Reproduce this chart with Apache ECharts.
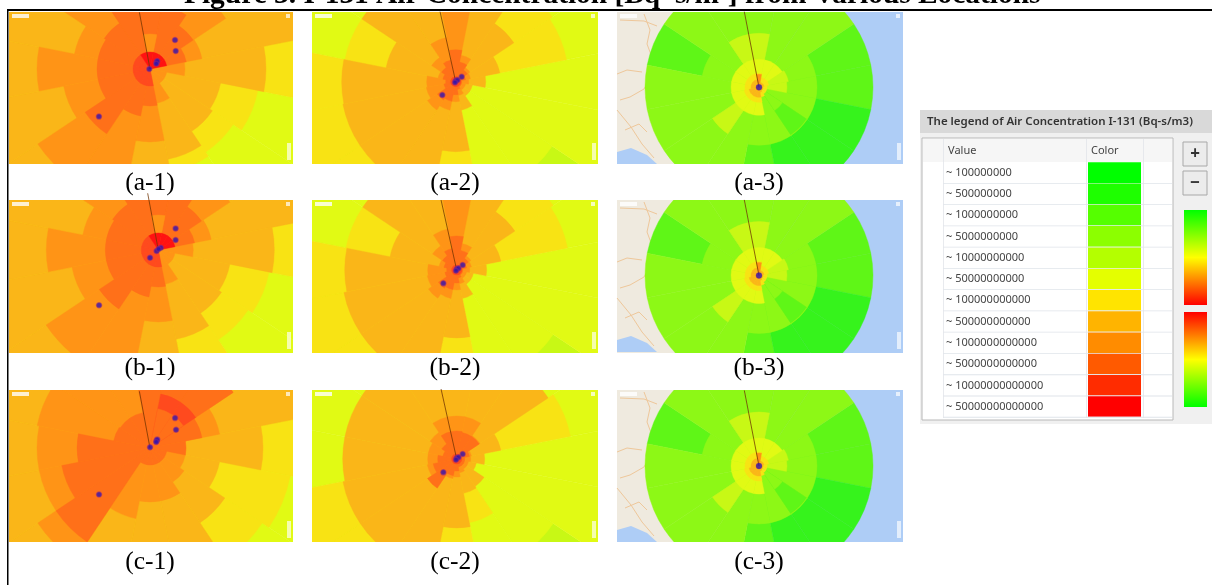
<!DOCTYPE html>
<html><head><meta charset="utf-8">
<style>html,body{margin:0;padding:0;background:#fff}#c{width:1212px;height:585px;filter:blur(0.4px)}</style>
<script src="https://cdn.jsdelivr.net/npm/echarts@6/dist/echarts.min.js"></script>
</head><body><div id="c"></div>
<script>
const titleText = 'Figure 3. I-131 Air Concentration [Bq*s/m³] from Various Locations';
const panelLabels = ['(a-1)','(a-2)','(a-3)','(b-1)','(b-2)','(b-3)','(c-1)','(c-2)','(c-3)'];
const legendTitle = 'The legend of Air Concentration I-131 (Bq-s/m3)';
const legendValues = ['~ 100000000','~ 500000000','~ 1000000000','~ 5000000000','~ 10000000000','~ 50000000000','~ 100000000000','~ 500000000000','~ 1000000000000','~ 5000000000000','~ 10000000000000','~ 50000000000000'];
const legendColors = ['#00ff00','#1eff00','#55ff00','#8cff00','#b4ff00','#e4ff00','#ffe400','#ffb400','#ff8c00','#ff5a00','#ff2c00','#ff0000'];
const levelColors = {red:'#ff1212',redOrange:'#ff4a1e',orangeRed:'#ff7019',orange:'#ff9416',amber:'#fab618',yellow:'#f8e314',ygreen:'#e1fa14',lime:'#c8f815',lgreen:'#8df816',green2:'#5ff617',green3:'#36f31c'};
const levelNames = Object.keys(levelColors);
// sector centres, degrees clockwise from north: N NNE NE ENE E ESE SE SSE S SSW SW WSW W WNW NW NNW
const sectorAngles = [0,22.5,45,67.5,90,112.5,135,157.5,180,202.5,225,247.5,270,292.5,315,337.5];
// reach of each concentration level per sector (distance units on the radius axis), painted in order
const panelA1 = [
 ['ygreen',[300,300,300,300,300,300,300,300,300,300,300,300,300,300,300,300]],
 ['yellow',[300,300,300,300,300,110,100,105,300,300,300,300,300,300,300,300]],
 ['amber',[300,300,300,300,116,72,75,92,300,300,300,300,300,300,300,300]],
 ['orange',[113,113,91,53,35,17,17,35,73,135,135,88,113,77,113,113]],
 ['orangeRed',[80,65,52,37,0,0,0,0,37,48,78,53,53,53,55,80]],
 ['orange',[35,0,0,0,0,0,0,0,0,0,0,0,0,0,0,0]],
 ['redOrange',[0,0,0,0,0,0,0,0,17,17,17,17,17,17,17,0]],
 ['red',[17,17,17,17,0,0,0,0,0,0,0,0,0,0,0,17]]];
const panelB1 = [
 ['ygreen',[300,300,300,300,300,300,300,300,300,300,300,300,300,300,300,300]],
 ['yellow',[300,300,300,300,300,113,108,125,300,300,300,300,300,300,300,300]],
 ['amber',[300,300,300,300,116,73,76,91,300,300,300,300,300,300,300,300]],
 ['orange',[113,113,86,54,35,17,17,35,72,135,135,88,112,77,113,113]],
 ['orangeRed',[80,65,52,37,0,0,0,0,37,48,71,53,53,53,55,80]],
 ['orange',[35,0,0,0,0,0,0,0,0,0,0,0,0,0,0,0]],
 ['redOrange',[0,0,0,0,0,0,0,0,17,17,17,17,17,17,17,0]],
 ['red',[17,17,17,17,0,0,0,0,0,0,0,0,0,0,0,17]]];
const panelC1 = [
 ['ygreen',[300,300,300,300,300,300,300,300,300,300,300,300,300,300,300,300]],
 ['yellow',[300,300,300,300,300,143,135,300,300,300,300,300,300,300,300,300]],
 ['amber',[300,300,300,300,113,71,90,300,300,300,300,300,300,300,300,300]],
 ['orange',[113,100,100,71,36,36,41,54,54,72,135,113,113,115,113,113]],
 ['orangeRed',[80,80,100,53,36,17,17,17,17,17,113,90,73,37,36,36]],
 ['redOrange',[0,55,55,0,0,0,0,0,0,0,0,0,0,0,0,0]],
 ['orangeRed',[0,40,40,0,0,0,0,0,0,0,0,0,0,0,0,0]]];
const panelA2 = [
 ['lime',[0,0,0,0,0,0,300,0,0,0,0,0,0,0,0,0]],
 ['ygreen',[300,300,300,300,300,300,116,300,300,300,300,300,300,300,300,300]],
 ['yellow',[300,300,116,113,0,0,0,0,300,300,300,300,300,113,0,300]],
 ['amber',[300,113,70,45,30,17,17,29,70,115,115,115,114,71,113,300]],
 ['orange',[80,27,17,15,13,10,10,14,20,29,34,30,29,18,29,45]],
 ['orangeRed',[32,20,14,10,6,6,6,8,13,20,22,12,10,13,17,22]],
 ['redOrange',[5,5,5,5,5,5,5,5,5,5,5,5,5,5,5,5]]];
const panelB2 = [
 ['lime',[0,0,0,0,0,0,300,0,0,0,0,0,0,0,0,0]],
 ['ygreen',[300,300,300,300,300,300,116,300,300,300,300,300,300,300,300,300]],
 ['yellow',[300,300,116,113,0,0,0,0,300,300,300,300,300,113,0,300]],
 ['amber',[300,113,70,45,30,17,17,29,68,115,115,115,112,68,113,300]],
 ['orange',[80,27,17,15,13,10,10,14,20,29,34,30,29,18,29,42]],
 ['orangeRed',[34,20,14,10,6,6,6,8,13,20,22,12,10,13,17,22]],
 ['redOrange',[5,5,5,5,5,5,5,5,5,5,5,5,5,5,5,5]]];
const panelC2 = [
 ['lime',[0,0,0,0,0,0,300,0,0,0,0,0,0,0,0,0]],
 ['ygreen',[300,300,300,300,300,300,116,300,300,300,300,300,300,300,300,300]],
 ['yellow',[300,300,0,116,0,0,0,65,300,300,300,300,0,0,0,300]],
 ['amber',[300,300,110,45,28,20,33,35,69,116,116,116,114,114,114,300]],
 ['orange',[43,43,28,15,14,12,12,14,18,20,35,30,29,29,32,43]],
 ['orangeRed',[28,27,27,13,8,8,8,8,12,17,35,24,19,14,18,28]],
 ['redOrange',[5,5,5,5,5,5,5,5,5,5,5,5,5,5,5,5]]];
const panelA3 = [
 ['green2',[0,0,0,114,114,0,0,0,114,0,0,0,0,114,0,0]],
 ['green3',[0,0,0,0,0,114,114,114,0,0,0,0,0,0,0,0]],
 ['lgreen',[114,114,114,58,58,58,58,58,58,114,114,114,114,58,114,114]],
 ['lime',[54,0,0,0,0,0,0,0,0,0,56,0,0,0,0,54]],
 ['green2',[0,0,0,0,0,0,57,0,0,0,0,0,0,0,0,0]],
 ['lgreen',[0,0,0,0,0,0,28,0,0,0,0,0,0,0,0,0]],
 ['lime',[0,0,0,30,28,0,0,0,0,0,0,0,0,0,0,0]],
 ['ygreen',[28,28,28,0,0,0,0,0,28,28,28,28,28,28,28,28]],
 ['yellow',[14,10,10,10,8,8,8,10,15,15,15,15,14,14,14,14]],
 ['amber',[10,5,5,5,4,4,4,5,10,10,10,10,8,8,8,8]],
 ['orange',[13,0,0,0,0,0,0,0,3,3,3,3,3,3,3,0]]];
const panelB3 = panelA3;
const panelC3 = panelA3;
const panelLayers = [panelA1,panelA2,panelA3,panelB1,panelB2,panelB3,panelC1,panelC2,panelC3];
// monitoring points: [distance, bearing]
const pointsA1 = [[38.3,40.8],[31.4,55],[9.4,45],[10.8,42],[8.2,50],[0.7,270],[69.8,227]];
const pointsB1 = [[27.7,38.7],[20,60],[2,240],[3.4,48],[1,20],[11.3,227],[81,227]];
const pointsC1 = [[39,40],[31.8,55],[9.9,42],[11.2,40],[8.6,46],[0.7,0],[69,227.6]];
const pointsCol2 = [[7.8,50],[18.9,225],[1,0],[2.5,45],[1,225]];
const pointsCol3 = [[0,0]];
const panelPoints = [pointsA1,pointsCol2,pointsCol3,pointsB1,pointsCol2,pointsCol3,pointsC1,pointsCol2,pointsCol3];
// plume axis: [distance, bearing]
const plumeAxis = [[57.7,349.4],[71.7,347.4],[77,349],[57.7,349.4],[71.7,347.4],[77,349],[57.7,349.4],[71.7,347.4],[77,349]];

// layout
const colX = [[9,293],[312,598],[617,903]];
const rowY = [[12,164],[200,353],[390,542]];
const labelY = [183,368,562];
const labelX = [150,455,759];
const centres = [[150,69],[455.7,81.7],[759,87.3],[158.3,250],[456.7,270],[759,275.5],[150,448],[456.7,459],[759,466]];
const R = 340;

function renderSector(clip){
  return function(params, api){
    const a = api.value(0), reach = api.value(1), lvl = api.value(2);
    const cs = params.coordSys;
    const half = (sectorAngles[1]-sectorAngles[0])/2;
    const p0 = api.coord([reach, a-half]);
    const p1 = api.coord([reach, a+half]);
    const rr = Math.hypot(p0[0]-cs.cx, p0[1]-cs.cy);
    const s = Math.atan2(p0[1]-cs.cy, p0[0]-cs.cx);
    let e = Math.atan2(p1[1]-cs.cy, p1[0]-cs.cx);
    if (e < s) e += Math.PI*2;
    const col = levelColors[levelNames[lvl]];
    return {type:'sector', shape:{cx:cs.cx, cy:cs.cy, r0:0, r:rr, startAngle:s, endAngle:e, clockwise:true},
      style:{fill:col, stroke:col, lineWidth:0.4},
      clipPath:{type:'rect', shape:clip}};
  };
}

const polar=[], angleAxis=[], radiusAxis=[], series=[], graphic=[];
const roads = [
 [[3,88],[13,85],[27,77],[31,70]],[[27,2],[33,18],[30,32],[36,48]],[[0,98],[14,115],[25,132],[37,146]],
 [[3,8],[27,9],[40,14]],[[0,62],[10,58],[25,60]],[[8,118],[22,112],[30,120]]];
panelLabels.forEach((lab,i)=>{
  const col=i%3,row=Math.floor(i/3);
  const [x0,x1]=colX[col],[y0,y1]=rowY[row];
  const clip={x:x0,y:y0,width:x1-x0,height:y1-y0};
  polar.push({center:centres[i],radius:R});
  angleAxis.push({polarIndex:i,type:'value',min:0,max:360,startAngle:90,show:false});
  radiusAxis.push({polarIndex:i,type:'value',min:0,max:R,show:false});
  const data=[];
  panelLayers[i].forEach(([name,vals])=>vals.forEach((v,k)=>{ if(v>0) data.push([sectorAngles[k],v,levelNames.indexOf(name)]); }));
  series.push({type:'custom',coordinateSystem:'polar',polarIndex:i,silent:true,z:2,encode:{radius:1,angle:0},renderItem:renderSector(clip),data});
  series.push({type:'line',coordinateSystem:'polar',polarIndex:i,silent:true,z:4,showSymbol:false,lineStyle:{color:'rgba(110,50,0,0.75)',width:1},data:[[0,0],plumeAxis[i]]});
  const isC3=col===2;
  series.push({type:'scatter',coordinateSystem:'polar',polarIndex:i,silent:true,z:5,symbolSize:isC3?6:5,
    itemStyle:{color:'#2d14b0',borderColor:'rgba(140,40,130,0.65)',borderWidth:isC3?0.5:1.5},data:panelPoints[i]});
  if(isC3){
    graphic.push({type:'rect',z:0,shape:{x:x0,y:y0,width:x1-x0,height:y1-y0},style:{fill:'#efeadf'}});
    graphic.push({type:'rect',z:0,shape:{x:x0+130,y:y0,width:x1-x0-130,height:y1-y0},style:{fill:'#aecdf6'}});
    graphic.push({type:'polygon',z:0,shape:{points:[[x0,y0+140],[x0+14,y0+136],[x0+30,y0+143],[x0+40,y0+152],[x0,y0+152]]},style:{fill:'#aecdf6'}});
    roads.forEach(r=>graphic.push({type:'polyline',z:0,shape:{points:r.map(p=>[x0+p[0],y0+p[1]])},style:{stroke:'#eec79a',lineWidth:1,fill:null}}));
  }
  // map furniture
  graphic.push({type:'rect',z:10,shape:{x:x0+3,y:y0+2,width:17,height:4},style:{fill:'rgba(255,255,255,0.8)'}});
  graphic.push({type:'rect',z:10,shape:{x:x1-7,y:y0+2,width:4,height:4},style:{fill:'rgba(255,255,255,0.7)'}});
  graphic.push({type:'rect',z:10,shape:{x:x1-6,y:y1-21,width:4,height:17},style:{fill:'rgba(255,255,255,0.65)'}});
  graphic.push({type:'text',z:10,style:{x:labelX[col],y:labelY[row]+0.5,text:lab,font:'25.5px "Liberation Serif"',fill:'#000',textAlign:'center',textVerticalAlign:'middle'}});
});
// frame
graphic.push({type:'rect',z:20,shape:{x:7,y:9,width:1205,height:2},style:{fill:'#000'}});
graphic.push({type:'rect',z:20,shape:{x:7,y:9,width:1.5,height:576},style:{fill:'#000'}});
// legend
const legFont='11px "Noto Sans"';
graphic.push({type:'rect',z:1,shape:{x:920,y:110,width:292,height:314},style:{fill:'#f0f0f0'}});
graphic.push({type:'rect',z:1,shape:{x:920,y:110,width:292,height:23},style:{fill:'#d9d9d9'}});
graphic.push({type:'text',z:2,style:{x:927,y:122,text:legendTitle,font:'600 11.5px "Noto Sans"',fill:'#333',textVerticalAlign:'middle'}});
graphic.push({type:'rect',z:1,shape:{x:922,y:138,width:251,height:282},style:{fill:'#fff',stroke:'#b8b8b8',lineWidth:1}});
graphic.push({type:'rect',z:1,shape:{x:923,y:139,width:249,height:23},style:{fill:'#f6f6f6'}});
graphic.push({type:'text',z:2,style:{x:948,y:151,text:'Value',font:legFont,fill:'#444',textVerticalAlign:'middle'}});
graphic.push({type:'text',z:2,style:{x:1091,y:151,text:'Color',font:legFont,fill:'#444',textVerticalAlign:'middle'}});
legendValues.forEach((v,i)=>{
  const top=162.3+21.27*i;
  graphic.push({type:'text',z:2,style:{x:946,y:top+10.4,text:v,font:legFont,fill:'#444',textVerticalAlign:'middle'}});
  graphic.push({type:'rect',z:2,shape:{x:1088,y:top,width:53,height:20.6},style:{fill:legendColors[i]}});
  graphic.push({type:'rect',z:2,shape:{x:943,y:top+20.6,width:229,height:0.8},style:{fill:'#dfe4ea'}});
});
[[943],[1086],[1143]].forEach(([x])=>graphic.push({type:'rect',z:2,shape:{x,y:139,width:0.8,height:279},style:{fill:'#e2e5ea'}}));
[[142,'+'],[171,'−']].forEach(([y,t])=>{
  graphic.push({type:'rect',z:2,shape:{x:1183,y,width:24,height:24},style:{fill:'#ececec',stroke:'#a8a8a8',lineWidth:1}});
  graphic.push({type:'text',z:3,style:{x:1195,y:y+12,text:t,font:'bold 17px "Noto Sans"',fill:'#333',textAlign:'center',textVerticalAlign:'middle'}});
});
const grad=(stops)=>new echarts.graphic.LinearGradient(0,0,0,1,stops);
graphic.push({type:'rect',z:2,shape:{x:1184,y:210,width:23,height:95},style:{fill:grad([{offset:0,color:'#00ff00'},{offset:.5,color:'#ffff00'},{offset:1,color:'#ff0000'}])}});
graphic.push({type:'rect',z:2,shape:{x:1184,y:312,width:23,height:95},style:{fill:grad([{offset:0,color:'#ff0000'},{offset:.5,color:'#ffff00'},{offset:1,color:'#00ff00'}])}});

const chart=echarts.init(document.getElementById('c'),null,{renderer:'canvas'});
chart.setOption({animation:false,backgroundColor:'#fff',
  title:{text:titleText,left:184,top:-19,padding:0,textStyle:{fontFamily:'"Liberation Serif"',fontWeight:'bold',fontSize:29.4,color:'#000'}},
  tooltip:{show:false},legend:{show:false},polar,angleAxis,radiusAxis,series,graphic:{elements:graphic}});
</script></body></html>
